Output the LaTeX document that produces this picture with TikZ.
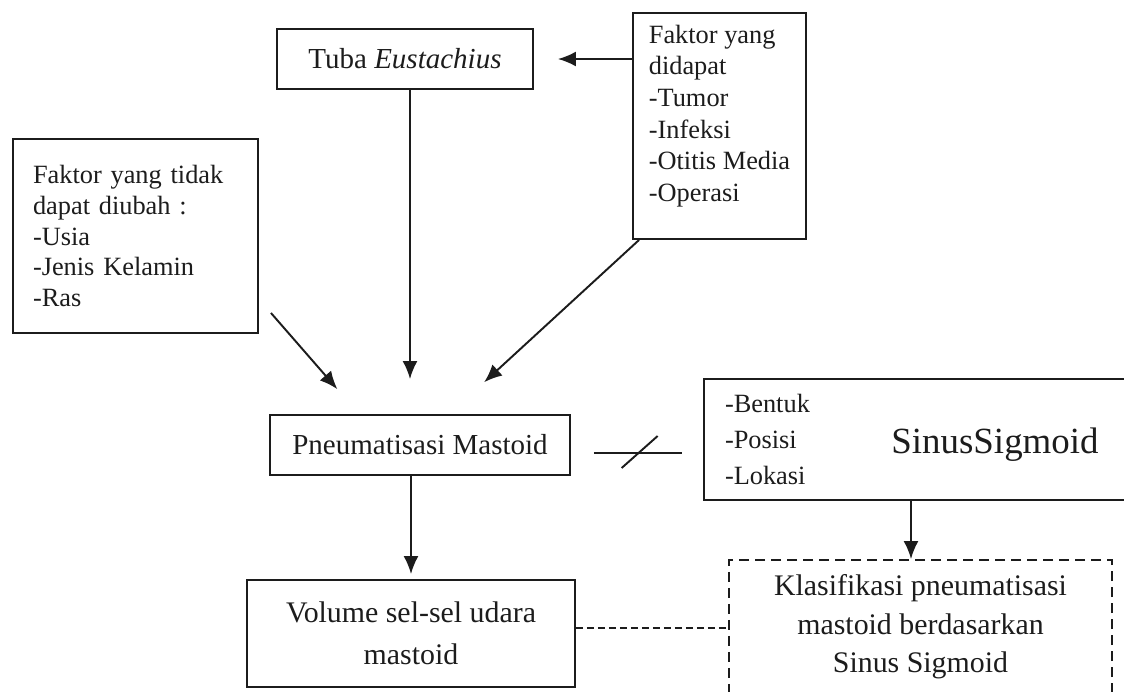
\documentclass[tikz,border=0pt]{standalone}
\usepackage{fontspec}
\setmainfont{Liberation Serif}
\usetikzlibrary{arrows.meta,positioning,calc}
\definecolor{cInk}{HTML}{1C1C1C}
\tikzset{
  >={Latex[length=0.36cm,width=0.3cm]},
  box/.style ={draw=cInk,line width=1.1pt,inner sep=0pt,align=center,text=cInk,
               font=\fontsize{16.5}{19}\selectfont},
  lst/.style ={box,align=left,font=\fontsize{15}{17.5}\selectfont},
  dbox/.style={box,dash pattern=on 0.2cm off 0.12cm,font=\fontsize{17}{22}\selectfont},
  ar/.style  ={->,line width=1.1pt,cInk},
  ln/.style  ={line width=1.1pt,cInk},
}

\begin{document}
\begin{tikzpicture}
\path[use as bounding box,clip] (0,0) rectangle (22.48,-13.82);
% boxes
\node[box,minimum width=5.12cm,minimum height=1.2cm] (tuba) at (8.10,-1.18) {Tuba \textit{Eustachius}};
\node[lst,minimum width=3.46cm,minimum height=4.52cm,font=\fontsize{15}{18}\selectfont] (didapat)
     at (14.39,-2.52) {Faktor yang\\didapat\\-Tumor\\-Infeksi\\-Otitis Media\\-Operasi\\[-0.12cm]};
\node[lst,inner xsep=0.4cm,text width=4.1cm,minimum height=3.88cm] (tidak) at (2.71,-4.72)
     {Faktor yang tidak\\dapat diubah :\\-Usia\\-Jenis Kelamin\\-Ras};
\node[box,minimum width=6.0cm,minimum height=1.2cm] (pneu) at (8.40,-8.90) {Pneumatisasi Mastoid};
\node[box,minimum width=8.92cm,minimum height=2.42cm] (sinus) at (18.54,-8.79) {};
\node[lst,draw=none,anchor=west,font=\fontsize{15}{20.5}\selectfont] (sinlst)
     at ([xshift=0.42cm]sinus.west) {-Bentuk\\-Posisi\\-Lokasi};
\node[text=cInk,font=\fontsize{21}{24}\selectfont] (sintitle) at (19.90,-8.90) {SinusSigmoid};
\node[box,minimum width=6.56cm,minimum height=2.14cm,font=\fontsize{17}{24}\selectfont] (vol)
     at (8.22,-12.67) {Volume sel-sel udara\\mastoid};
\node[dbox,minimum width=7.66cm,minimum height=2.68cm] (klas) at (18.41,-12.54)
     {Klasifikasi pneumatisasi\\mastoid berdasarkan\\Sinus Sigmoid};
% arrows
\draw[ar,shorten >=0.48cm] (didapat.west |- tuba.east) -- (tuba.east);
\draw[ar,shorten >=0.7cm] ([xshift=0.1cm]tuba.south) -- ([xshift=0.1cm]tuba.south |- pneu.north);
\draw[ar,shorten >=0.66cm] ([shift={(0.24,0.42)}]tidak.south east) -- ([xshift=1.8cm]pneu.north west);
\draw[ar,shorten >=0.94cm] ([xshift=0.14cm]didapat.south west) -- ([xshift=3.61cm]pneu.north west);
\draw[ar,shorten >=0.1cm] (vol.north |- pneu.south) -- (vol.north);
\draw[ar] ([xshift=-0.19cm]klas.north |- sinus.south) -- ([xshift=-0.19cm]klas.north);
\draw[ln,dash pattern=on 0.14cm off 0.08cm] ([yshift=0.11cm]vol.east) -- ([yshift=0.11cm]vol.east -| klas.west);
% cut mark
\draw[ln,shorten <=0.46cm,shorten >=0.42cm] ([yshift=-0.16cm]pneu.east) -- ([yshift=-0.16cm]pneu.east -| sinus.west);
\coordinate (cut) at ($([yshift=-0.14cm]pneu.east)!0.52!([yshift=-0.14cm]pneu.east -| sinus.west)$);
\draw[ln] ([shift={(-0.36,-0.32)}]cut) -- ([shift={(0.36,0.32)}]cut);
\end{tikzpicture}
\end{document}
